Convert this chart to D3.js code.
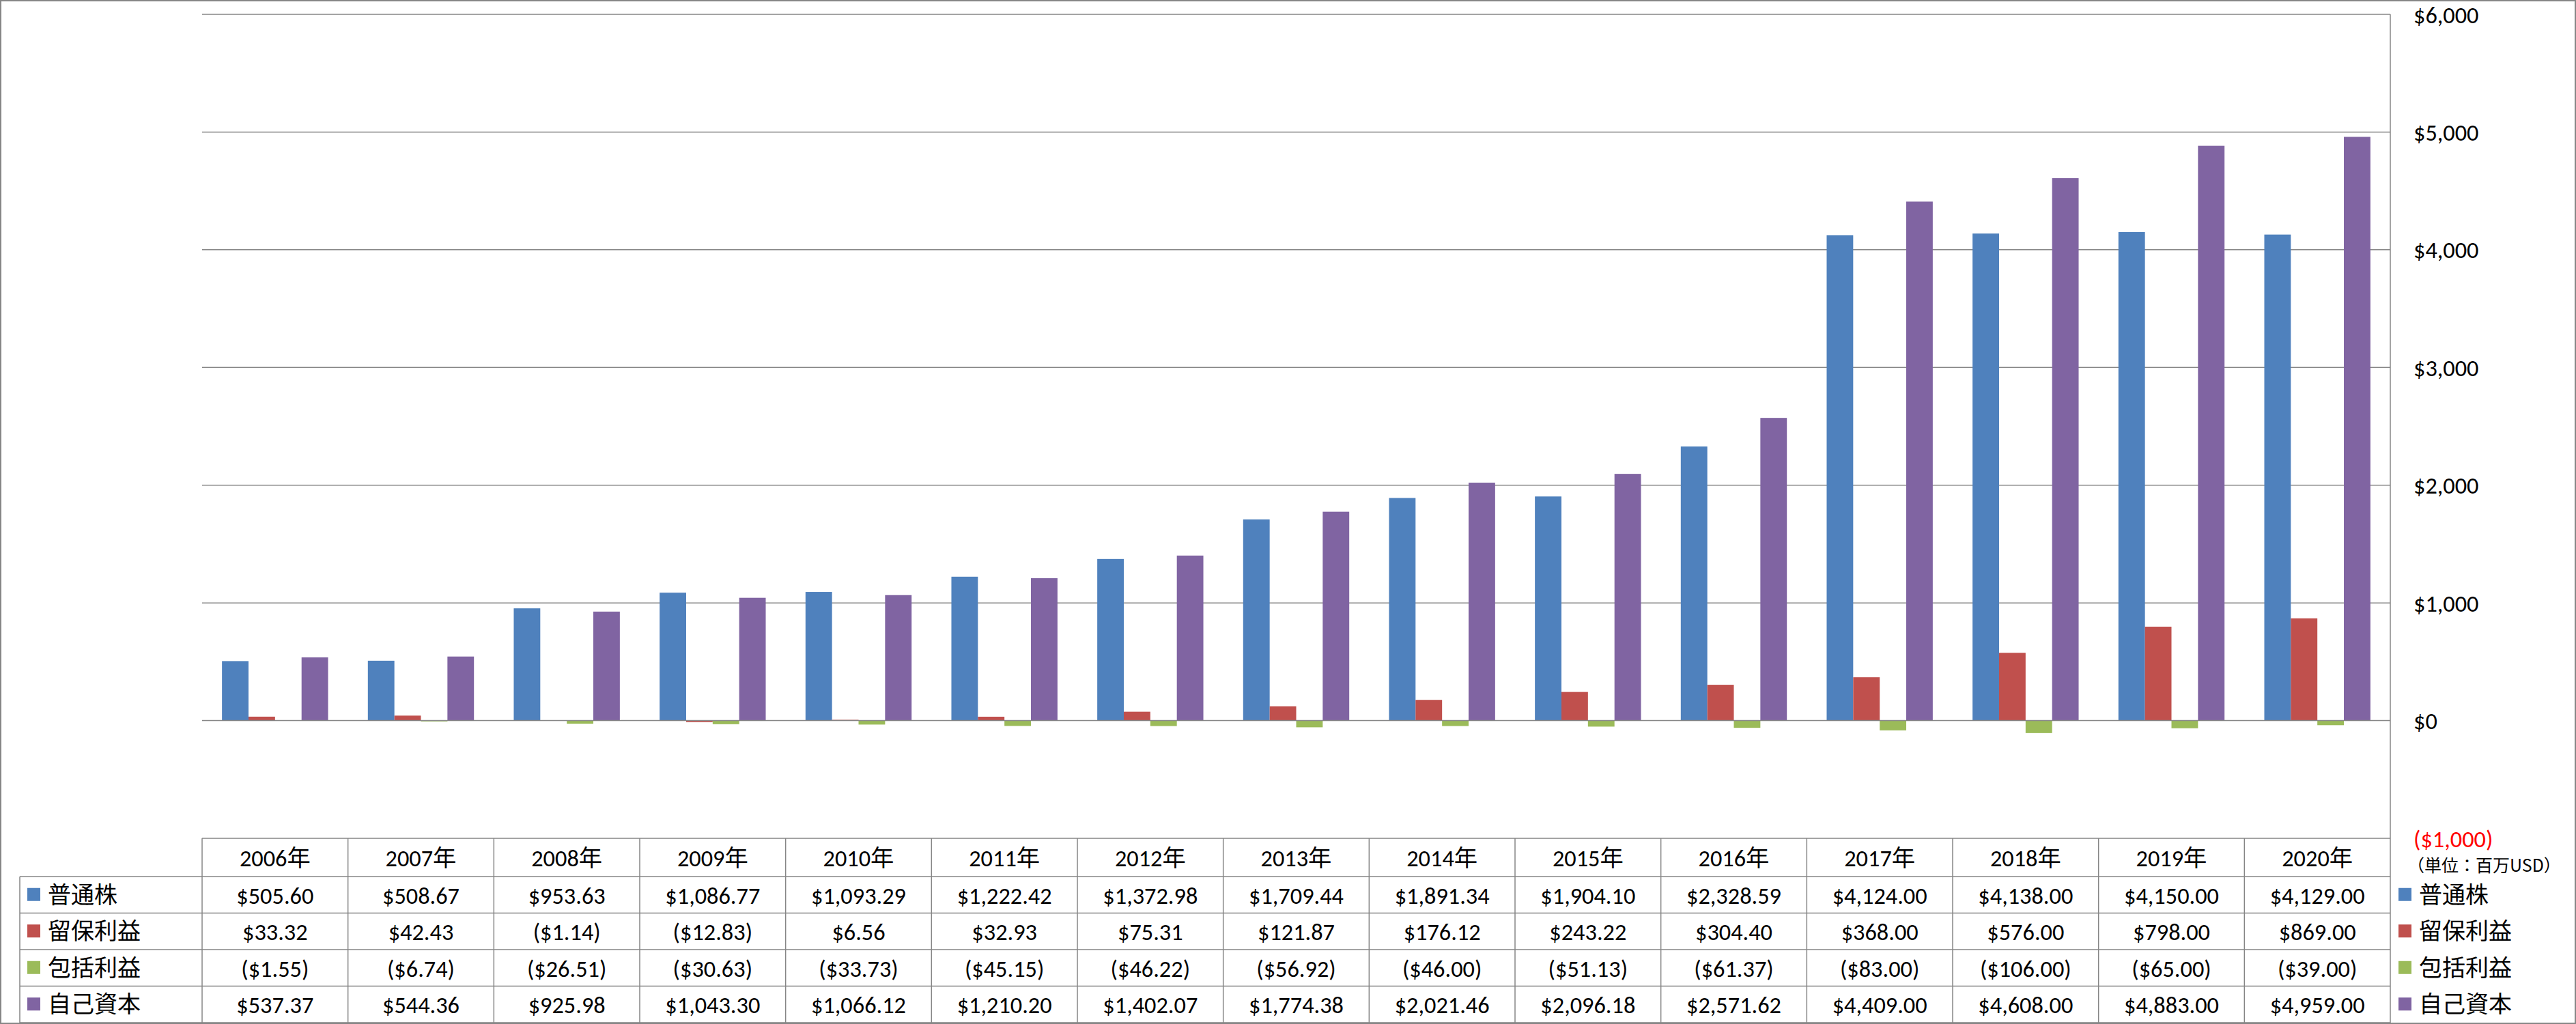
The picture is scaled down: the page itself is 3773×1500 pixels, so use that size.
<!DOCTYPE html>
<html>
<head>
<meta charset="utf-8">
<script src="https://cdn.jsdelivr.net/npm/d3@7"></script>
<style>
  html, body { margin: 0; padding: 0; background: #fff; }
  svg { display: block; }
</style>
</head>
<body>
<svg id="chart" width="3773" height="1500"></svg>
<script>
const categories = ["2006年","2007年","2008年","2009年","2010年","2011年","2012年","2013年","2014年","2015年","2016年","2017年","2018年","2019年","2020年"];
const seriesNames = ["普通株","留保利益","包括利益","自己資本"];
const commonStock = [505.60, 508.67, 953.63, 1086.77, 1093.29, 1222.42, 1372.98, 1709.44, 1891.34, 1904.10, 2328.59, 4124.00, 4138.00, 4150.00, 4129.00];
const retainedEarnings = [33.32, 42.43, -1.14, -12.83, 6.56, 32.93, 75.31, 121.87, 176.12, 243.22, 304.40, 368.00, 576.00, 798.00, 869.00];
const comprehensiveIncome = [-1.55, -6.74, -26.51, -30.63, -33.73, -45.15, -46.22, -56.92, -46.00, -51.13, -61.37, -83.00, -106.00, -65.00, -39.00];
const equity = [537.37, 544.36, 925.98, 1043.30, 1066.12, 1210.20, 1402.07, 1774.38, 2021.46, 2096.18, 2571.62, 4409.00, 4608.00, 4883.00, 4959.00];
const yTicks = [-1000, 0, 1000, 2000, 3000, 4000, 5000, 6000];
const unitLabel = "（単位：百万USD）";

const seriesValues = [commonStock, retainedEarnings, comprehensiveIncome, equity];
const colors = ["#4F81BD", "#C0504D", "#9BBB59", "#8064A2"];
const gridColor = "#868686";
const latin = "Carlito, Lato, 'Noto Sans CJK JP', sans-serif";
const cjk = "'Noto Sans CJK JP', 'Noto Sans CJK SC', sans-serif";

const svg = d3.select("#chart");
const W = 3773, H = 1500;
const plotL = 296, plotR = 3501, plotT = 21, plotB = 1228;
const tableB = 1498;
const headerB = 1284;
const tableL = 29;

// size latin text so that a sample string matches the reference's width
const probe = svg.append("text").attr("font-family", latin).attr("font-size", 100).text("$4,124.00");
const probeLen = probe.node().getComputedTextLength() || 448;
probe.remove();
let numSize = 100 * 139 / probeLen;
numSize = Math.max(26, Math.min(38, numSize));

const p = 1.5 / 5.5;
const x0 = d3.scaleBand().domain(categories).range([plotL, plotR]).paddingInner(p).paddingOuter(p / 2);
const x1 = d3.scaleBand().domain(d3.range(seriesNames.length)).range([0, x0.bandwidth()]).padding(0);
const y = d3.scaleLinear().domain([-1000, 6000]).range([plotB, plotT]);

// outer border
svg.append("rect").attr("x", 1).attr("y", 1).attr("width", W - 2).attr("height", H - 2)
  .attr("fill", "#fff").attr("stroke", gridColor).attr("stroke-width", 2);

// gridlines
svg.append("g").selectAll("line").data(yTicks.filter(d => d > 0)).join("line")
  .attr("x1", plotL).attr("x2", plotR)
  .attr("y1", d => y(d)).attr("y2", d => y(d))
  .attr("stroke", gridColor).attr("stroke-width", 1.5);

// bars
const groups = svg.append("g").selectAll("g").data(categories).join("g")
  .attr("transform", d => `translate(${x0(d)},0)`);
groups.selectAll("rect").data((c, i) => seriesValues.map((s, k) => ({k, v: s[i]}))).join("rect")
  .attr("x", d => x1(d.k))
  .attr("width", x1.bandwidth())
  .attr("y", d => y(Math.max(0, d.v)))
  .attr("height", d => Math.abs(y(d.v) - y(0)))
  .attr("fill", d => colors[d.k]);

// zero line
svg.append("line").attr("x1", plotL).attr("x2", plotR).attr("y1", y(0)).attr("y2", y(0))
  .attr("stroke", gridColor).attr("stroke-width", 1.5);

// right value axis
const axis = d3.axisRight(y).tickValues(yTicks).tickSize(0).tickPadding(34)
  .tickFormat(v => v < 0 ? "($" + d3.format(",")(-v) + ")" : "$" + d3.format(",")(v));
const ag = svg.append("g").attr("transform", `translate(${plotR},0)`).call(axis);
ag.select(".domain").remove();
ag.selectAll("text")
  .attr("font-family", latin).attr("font-size", numSize)
  .attr("fill", d => d < 0 ? "#FF0000" : "#000")
  .attr("dy", "0.35em");

// axis line on the right (continues as table border)
svg.append("line").attr("x1", plotR).attr("x2", plotR).attr("y1", plotT).attr("y2", tableB)
  .attr("stroke", gridColor).attr("stroke-width", 1.5);

// unit label
svg.append("text").attr("x", 3526).attr("y", 1268).attr("dy", "0.35em")
  .attr("font-family", cjk).attr("font-size", 25).attr("fill", "#000").text(unitLabel);

// data table
const rowH = (tableB - headerB) / seriesNames.length;
const rowTop = i => headerB + i * rowH;
const tg = svg.append("g");
tg.append("line").attr("x1", plotL).attr("x2", plotR).attr("y1", plotB).attr("y2", plotB)
  .attr("stroke", gridColor).attr("stroke-width", 1.5);
for (let i = 0; i <= seriesNames.length; i++) {
  tg.append("line").attr("x1", tableL).attr("x2", plotR).attr("y1", rowTop(i)).attr("y2", rowTop(i))
    .attr("stroke", gridColor).attr("stroke-width", 1.5);
}
tg.append("line").attr("x1", tableL).attr("x2", tableL).attr("y1", headerB).attr("y2", tableB)
  .attr("stroke", gridColor).attr("stroke-width", 1.5);
const step = x0.step();
const colEdges = categories.map((c, i) => plotL + i * step);
tg.selectAll("line.v").data(colEdges).join("line").attr("class", "v")
  .attr("x1", d => d).attr("x2", d => d).attr("y1", plotB).attr("y2", tableB)
  .attr("stroke", gridColor).attr("stroke-width", 1.5);

// header labels
tg.selectAll("text.h").data(categories).join("text").attr("class", "h")
  .attr("x", d => x0(d) + x0.bandwidth() / 2)
  .attr("y", (plotB + headerB) / 2 + 1).attr("dy", "0.35em")
  .attr("text-anchor", "middle")
  .attr("font-family", latin).attr("font-size", numSize).attr("fill", "#000")
  .text(d => d);

const fmt = v => v < 0 ? "($" + d3.format(",.2f")(-v) + ")" : "$" + d3.format(",.2f")(v);
seriesNames.forEach((name, k) => {
  const cy = rowTop(k) + rowH / 2;
  tg.append("rect").attr("x", 40).attr("y", cy - 10).attr("width", 19).attr("height", 19).attr("fill", colors[k]);
  tg.append("text").attr("x", 70).attr("y", cy).attr("dy", "0.35em")
    .attr("font-family", cjk).attr("font-size", 34).attr("fill", "#000").text(name);
  tg.selectAll(null).data(seriesValues[k]).join("text")
    .attr("x", (d, i) => x0(categories[i]) + x0.bandwidth() / 2)
    .attr("y", cy + 1).attr("dy", "0.35em")
    .attr("text-anchor", "middle")
    .attr("font-family", latin).attr("font-size", numSize).attr("fill", "#000")
    .text(d => fmt(d));
  tg.append("rect").attr("x", 3513).attr("y", cy - 10).attr("width", 19).attr("height", 19).attr("fill", colors[k]);
  tg.append("text").attr("x", 3543).attr("y", cy).attr("dy", "0.35em")
    .attr("font-family", cjk).attr("font-size", 34).attr("fill", "#000").text(name);
});
</script>
</body>
</html>
